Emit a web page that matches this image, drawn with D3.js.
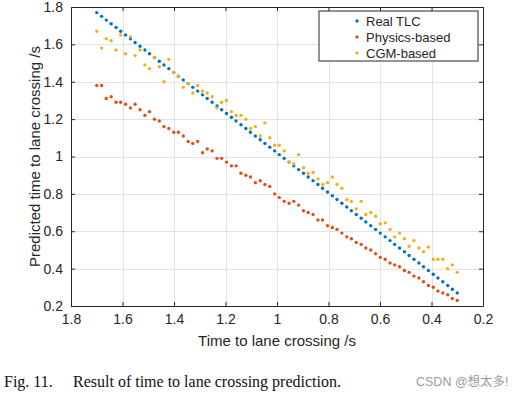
<!DOCTYPE html>
<html>
<style>
body { margin: 0; background: #fff; }
text { font-family: "Liberation Sans", Arial, sans-serif; fill: #262626; }
</style>
<body>
<script src="https://d3js.org/d3.v7.min.js"></script>
<script>
// time to lane crossing (x axis), one sample per step
var tlcTime = [1.700, 1.681, 1.663, 1.644, 1.625, 1.607, 1.588, 1.569, 1.551, 1.532,
  1.513, 1.495, 1.476, 1.457, 1.439, 1.420, 1.401, 1.383, 1.364, 1.345,
  1.327, 1.308, 1.289, 1.271, 1.252, 1.233, 1.215, 1.196, 1.177, 1.159,
  1.140, 1.121, 1.103, 1.084, 1.065, 1.047, 1.028, 1.009, 0.991, 0.972,
  0.953, 0.935, 0.916, 0.897, 0.879, 0.860, 0.841, 0.823, 0.804, 0.785,
  0.767, 0.748, 0.729, 0.711, 0.692, 0.673, 0.655, 0.636, 0.617, 0.599,
  0.580, 0.561, 0.543, 0.524, 0.505, 0.487, 0.468, 0.449, 0.431, 0.412,
  0.393, 0.375, 0.356, 0.337, 0.319, 0.300];

var realTLC = [1.77, 1.75, 1.73, 1.71, 1.69, 1.67, 1.65, 1.63, 1.61, 1.59,
  1.57, 1.55, 1.53, 1.51, 1.49, 1.47, 1.45, 1.43, 1.41, 1.39,
  1.37, 1.35, 1.33, 1.31, 1.29, 1.27, 1.25, 1.23, 1.21, 1.19,
  1.17, 1.15, 1.13, 1.11, 1.09, 1.07, 1.05, 1.03, 1.01, 0.99,
  0.97, 0.95, 0.93, 0.91, 0.89, 0.87, 0.85, 0.83, 0.81, 0.79,
  0.77, 0.75, 0.73, 0.71, 0.69, 0.67, 0.65, 0.63, 0.61, 0.59,
  0.57, 0.55, 0.53, 0.51, 0.49, 0.47, 0.45, 0.43, 0.41, 0.39,
  0.37, 0.35, 0.33, 0.31, 0.29, 0.27];

var physicsBased = [1.38, 1.38, 1.31, 1.32, 1.29, 1.29, 1.28, 1.26, 1.28, 1.25,
  1.22, 1.24, 1.20, 1.19, 1.16, 1.15, 1.13, 1.13, 1.11, 1.08,
  1.07, 1.08, 1.02, 1.04, 1.03, 0.99, 0.99, 0.97, 0.95, 0.95,
  0.91, 0.90, 0.89, 0.86, 0.87, 0.85, 0.84, 0.80, 0.78, 0.76,
  0.75, 0.76, 0.74, 0.71, 0.70, 0.69, 0.66, 0.66, 0.63, 0.62,
  0.61, 0.59, 0.57, 0.56, 0.54, 0.53, 0.51, 0.50, 0.48, 0.46,
  0.45, 0.43, 0.42, 0.41, 0.39, 0.38, 0.36, 0.35, 0.33, 0.31,
  0.30, 0.28, 0.27, 0.26, 0.24, 0.23];

var cgmBased = [1.67, 1.58, 1.63, 1.62, 1.57, 1.65, 1.55, 1.64, 1.54, 1.57,
  1.49, 1.47, 1.53, 1.48, 1.40, 1.52, 1.45, 1.43, 1.37, 1.39,
  1.34, 1.38, 1.35, 1.34, 1.32, 1.26, 1.29, 1.30, 1.24, 1.22,
  1.22, 1.20, 1.15, 1.16, 1.11, 1.18, 1.10, 1.06, 1.06, 1.03,
  0.97, 0.96, 1.01, 0.94, 0.91, 0.915, 0.88, 0.85, 0.86, 0.89,
  0.85, 0.83, 0.77, 0.76, 0.72, 0.76, 0.69, 0.70, 0.68, 0.64,
  0.645, 0.61, 0.57, 0.59, 0.56, 0.52, 0.55, 0.51, 0.49, 0.515,
  0.45, 0.45, 0.45, 0.40, 0.42, 0.38];

var seriesNames = ["Real TLC", "Physics-based", "CGM-based"];
var seriesColors = ["#0072BD", "#D95319", "#EDB120"];
var xTicks = [1.8, 1.6, 1.4, 1.2, 1, 0.8, 0.6, 0.4, 0.2];
var yTicks = [0.2, 0.4, 0.6, 0.8, 1, 1.2, 1.4, 1.6, 1.8];

var width = 516, height = 396;
var plotLeft = 71, plotRight = 483, plotTop = 7, plotBottom = 306;

var svg = d3.select("body")
  .append("svg")
  .attr("width", width)
  .attr("height", height);

svg.append("rect")
  .attr("width", width)
  .attr("height", height)
  .attr("fill", "#fff");

var x = d3.scaleLinear().domain([1.8, 0.2]).range([plotLeft, plotRight]);
var y = d3.scaleLinear().domain([0.2, 1.8]).range([plotBottom, plotTop]);

// grid
var grid = svg.append("g").attr("stroke", "#e3e3e3").attr("stroke-width", 1);
grid.selectAll(".gx").data(xTicks.slice(1, -1)).enter().append("line")
  .attr("x1", d => Math.round(x(d)) + 0.5).attr("x2", d => Math.round(x(d)) + 0.5)
  .attr("y1", plotTop).attr("y2", plotBottom);
grid.selectAll(".gy").data(yTicks.slice(1, -1)).enter().append("line")
  .attr("y1", d => Math.round(y(d)) + 0.5).attr("y2", d => Math.round(y(d)) + 0.5)
  .attr("x1", plotLeft).attr("x2", plotRight);

// data points
var allSeries = [realTLC, physicsBased, cgmBased];
allSeries.forEach(function(vals, k) {
  svg.append("g").selectAll("circle")
    .data(vals)
    .enter().append("circle")
    .attr("cx", (d, i) => x(tlcTime[i]))
    .attr("cy", d => y(d))
    .attr("r", 1.7)
    .attr("fill", seriesColors[k]);
});

// axes, box style with inward ticks
function styleAxis(g) {
  g.select(".domain").attr("stroke", "#262626");
  g.selectAll(".tick line").attr("stroke", "#262626");
  g.selectAll("text").attr("font-size", "14px")
    .attr("font-family", "Liberation Sans, Arial, sans-serif").attr("fill", "#262626");
}

svg.append("g")
  .attr("transform", "translate(0," + plotBottom + ")")
  .call(d3.axisBottom(x).tickValues(xTicks).tickSizeInner(-4).tickSizeOuter(0).tickPadding(8).tickFormat(d3.format("")))
  .call(styleAxis);
svg.append("g")
  .attr("transform", "translate(0," + plotTop + ")")
  .call(d3.axisTop(x).tickValues(xTicks).tickSizeInner(-4).tickSizeOuter(0).tickFormat(""))
  .call(styleAxis);
svg.append("g")
  .attr("transform", "translate(" + plotLeft + ",0)")
  .call(d3.axisLeft(y).tickValues(yTicks).tickSizeInner(-4).tickSizeOuter(0).tickPadding(8).tickFormat(d3.format("")))
  .call(styleAxis);
svg.append("g")
  .attr("transform", "translate(" + plotRight + ",0)")
  .call(d3.axisRight(y).tickValues(yTicks).tickSizeInner(-4).tickSizeOuter(0).tickFormat(""))
  .call(styleAxis);

// axis labels
svg.append("text")
  .attr("x", (plotLeft + plotRight) / 2)
  .attr("y", 346)
  .attr("text-anchor", "middle")
  .attr("font-size", "15px")
  .text("Time to lane crossing /s");

svg.append("text")
  .attr("transform", "translate(40," + (plotTop + plotBottom) / 2 + ") rotate(-90)")
  .attr("text-anchor", "middle")
  .attr("font-size", "15px")
  .text("Predicted time to lane crossing /s");

// legend
var legend = svg.append("g").attr("transform", "translate(319,11)");
legend.append("rect")
  .attr("width", 159).attr("height", 50)
  .attr("fill", "#fff").attr("stroke", "#262626").attr("stroke-width", 1);
seriesNames.forEach(function(name, k) {
  var ly = 10 + k * 16;
  legend.append("circle").attr("cx", 38).attr("cy", ly).attr("r", 1.7).attr("fill", seriesColors[k]);
  legend.append("text").attr("x", 47).attr("y", ly + 5)
    .attr("font-size", "13px").text(name);
});

// caption
svg.append("text")
  .attr("x", 4).attr("y", 387)
  .attr("font-size", "16px")
  .style("font-family", "Liberation Serif, serif").style("fill", "#111")
  .text("Fig. 11.");
svg.append("text")
  .attr("x", 73).attr("y", 387)
  .attr("font-size", "16px")
  .style("font-family", "Liberation Serif, serif").style("fill", "#111")
  .text("Result of time to lane crossing prediction.");

svg.append("text")
  .attr("x", 416).attr("y", 386)
  .attr("font-size", "12.5px")
  .style("font-family", "Liberation Sans, Noto Sans CJK SC, sans-serif").style("fill", "#9a9a9a")
  .text("CSDN @想太多!");
</script>
</body>
</html>
